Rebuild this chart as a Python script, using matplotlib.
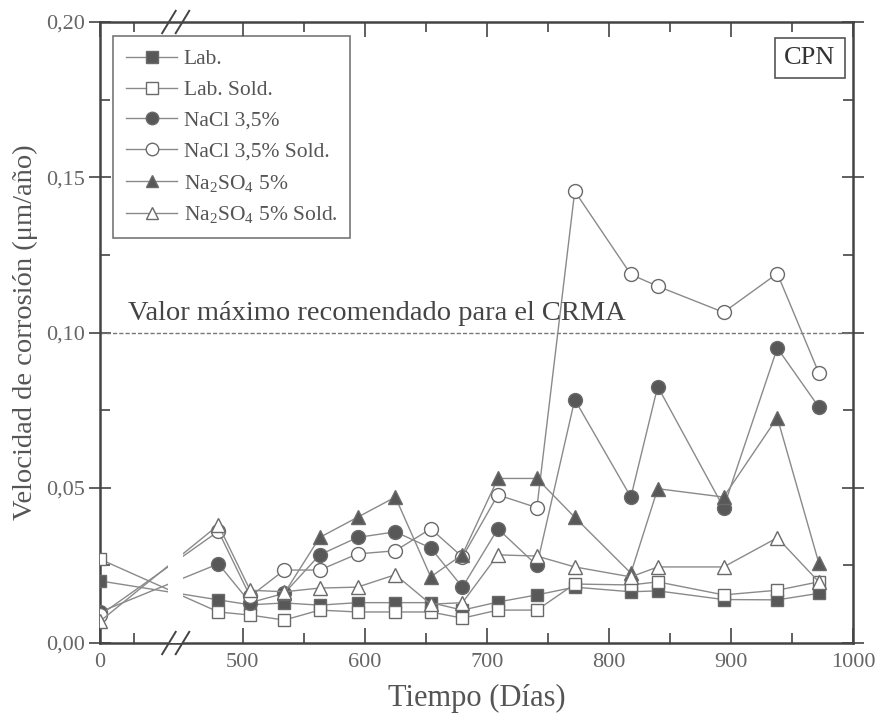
import numpy as np
import matplotlib.pyplot as plt
from matplotlib.ticker import FixedLocator, FixedFormatter

plt.rcParams['font.family'] = ['Liberation Serif', 'DejaVu Serif']
plt.rcParams['mathtext.fontset'] = 'custom'
plt.rcParams['mathtext.rm'] = 'Liberation Serif'
plt.rcParams['mathtext.it'] = 'Liberation Serif:italic'

# Datos: velocidad de corrosión (um/año) frente al tiempo (días)
dias = np.array([0, 480, 506, 534, 563, 594, 625, 654, 680, 709, 741, 772, 818, 840, 894, 938, 972])

lab = [0.020, 0.0139, 0.0123, 0.0129, 0.0122, 0.0130, 0.0130, 0.0130, 0.0106, 0.0132, 0.0155,
       0.0180, 0.0165, 0.0168, 0.0140, 0.0139, 0.0160]
lab_sold = [0.027, 0.0100, 0.0090, 0.0074, 0.0106, 0.0100, 0.0100, 0.0100, 0.0080, 0.0106, 0.0106,
            0.0190, 0.0187, 0.0197, 0.0155, 0.0170, 0.0197]
nacl = [0.010, 0.0255, 0.0130, 0.0160, 0.0284, 0.0340, 0.0358, 0.0306, 0.0180, 0.0368, 0.0250,
        0.0784, 0.0470, 0.0826, 0.0436, 0.0950, 0.0760]
nacl_sold = [0.009, 0.0360, 0.0150, 0.0235, 0.0235, 0.0287, 0.0297, 0.0368, 0.0277, 0.0477, 0.0436,
             0.1455, 0.1187, 0.1149, 0.1065, 0.1190, 0.0870]
na2so4 = [np.nan, np.nan, np.nan, 0.0160, 0.0340, 0.0405, 0.0470, 0.0213, 0.0285, 0.0530, 0.0530,
          0.0405, 0.0225, 0.0497, 0.0470, 0.0726, 0.0258]
na2so4_sold = [0.007, 0.0380, 0.0170, 0.0165, 0.0177, 0.0180, 0.0220, 0.0125, 0.0130, 0.0284, 0.0280,
               0.0245, 0.0213, 0.0245, 0.0245, 0.0339, 0.0197]

etiquetas = ['Lab.', 'Lab. Sold.', 'NaCl 3,5%', 'NaCl 3,5% Sold.',
             r'Na$_2$SO$_4$ 5%', r'Na$_2$SO$_4$ 5% Sold.']
marcadores = ['s', 's', 'o', 'o', '^', '^']
rellenos = [True, False, True, False, True, False]

limite_crma = 0.10

# eje x partido: el día 0 se dibuja justo en el borde izquierdo
x_cero = 383
x_eje = np.where(dias == 0, x_cero, dias)

gris = '#555555'
fig = plt.figure(figsize=(8.76, 7.26), dpi=100)
ax = fig.add_axes([0.1142, 0.1143, 0.8595, 0.8554])

series = [lab, lab_sold, nacl, nacl_sold, na2so4, na2so4_sold]
for y, lab_txt, m, lleno in zip(series, etiquetas, marcadores, rellenos):
    y = np.array(y, dtype=float)
    ok = ~np.isnan(y)
    ax.plot(x_eje[ok], y[ok], '-', color='#8a8a8a', lw=1.0, marker=m,
            markersize=10 if m != 's' else 9,
            markerfacecolor='#585858' if lleno else 'white',
            markeredgecolor='#6a6a6a', markeredgewidth=1.0, label=lab_txt, zorder=3)

# hueco de la ruptura del eje
ax.axvspan(439, 451, ymin=0, ymax=0.35, color='white', zorder=3.5, lw=0)

# línea de valor máximo recomendado
ax.axhline(limite_crma, color='#777777', lw=1.0, ls=(0, (3, 1.5)), zorder=2)
ax.text(406, limite_crma + 0.002, 'Valor máximo recomendado para el CRMA',
        fontsize=20.5, color='#444444', va='bottom', ha='left')

ax.set_xlim(x_cero, 1000)
ax.set_ylim(0, 0.20)

ax.xaxis.set_major_locator(FixedLocator([x_cero, 500, 600, 700, 800, 900, 1000]))
ax.xaxis.set_major_formatter(FixedFormatter(['0', '500', '600', '700', '800', '900', '1000']))
ax.xaxis.set_minor_locator(FixedLocator([411, 550, 650, 750, 850, 950]))
ax.set_yticks([0, 0.05, 0.10, 0.15, 0.20])
ax.set_yticklabels(['0,00', '0,05', '0,10', '0,15', '0,20'])
ax.set_yticks([0.025, 0.075, 0.125, 0.175], minor=True)

ax.tick_params(which='both', direction='in', top=True, right=True, colors='#444444',
               labelcolor='#666666', labelsize=16, width=1.2)
ax.tick_params(which='major', length=11, pad=7)
ax.tick_params(which='minor', length=7)
ax.tick_params(axis='y', which='major', direction='inout', length=16, pad=3)
for s in ax.spines.values():
    s.set_linewidth(1.8)
    s.set_color('#444444')

# marcas // de la ruptura arriba y abajo
xb = (445 - x_cero) / (1000 - x_cero)
for yb in (0, 1):
    for dx in (-0.009, 0.009):
        ax.plot([xb + dx - 0.009, xb + dx + 0.009], [yb - 0.018, yb + 0.018],
                transform=ax.transAxes, color='#444444', lw=1.4, clip_on=False, zorder=6)

ax.set_xlabel('Tiempo (Días)', fontsize=22, color=gris, labelpad=9)
ax.set_ylabel('Velocidad de corrosión (μm/año)', fontsize=20.5, color=gris, labelpad=6)

leg = ax.legend(loc='upper left', bbox_to_anchor=(0.017, 0.977), borderaxespad=0,
                fontsize=15.5, handlelength=2.4, numpoints=1, frameon=True, fancybox=False,
                borderpad=0.6, labelspacing=0.5, handletextpad=0.3, markerscale=0.9)
leg.get_frame().set_edgecolor('#555555')
leg.get_frame().set_linewidth(1.2)
for t in leg.get_texts():
    t.set_color(gris)

ax.text(0.977, 0.96, 'CPN', transform=ax.transAxes, fontsize=19, color='#333333',
        ha='right', va='top',
        bbox=dict(boxstyle='square,pad=0.35', fc='white', ec='#555555', lw=1.2))

plt.savefig('out.png', dpi=100)
